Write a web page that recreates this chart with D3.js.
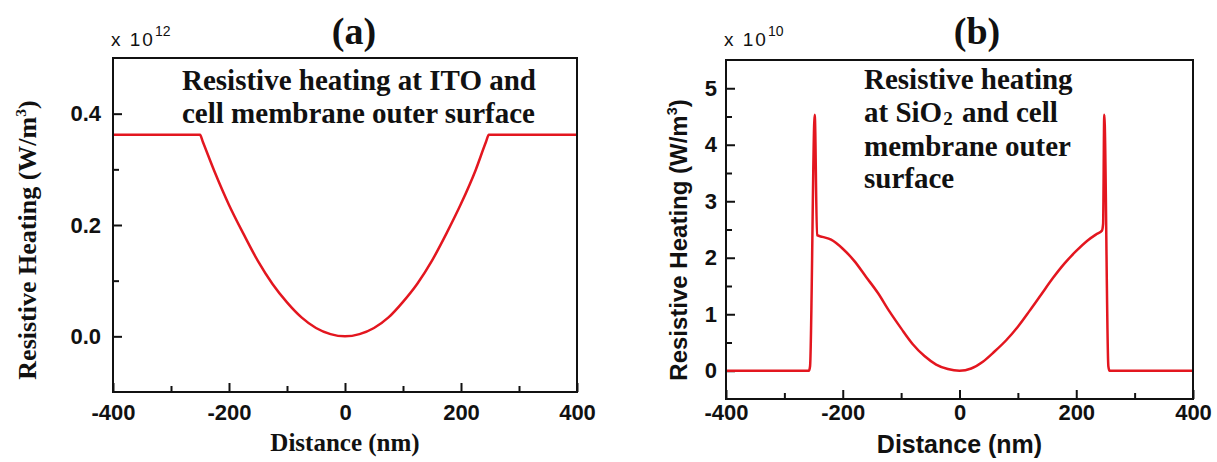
<!DOCTYPE html>
<html lang="en">
<head>
<meta charset="UTF-8">
<title>Resistive heating profiles</title>
<style>
    body { margin: 0; background: #fff; }
    svg { display: block; background: #fff; }
    .frame { fill: none; stroke: #111; stroke-width: 2px; }
    .axis path.domain { display: none; }
    .axis line { stroke: #111; stroke-width: 2px; }
    .axis text {
        font-family: "Liberation Sans", Arial, sans-serif;
        font-weight: bold;
        font-size: 22px;
        fill: #111;
    }
    .curve { fill: none; stroke: #e3161f; stroke-width: 2.5px; stroke-linejoin: round; }
    .serif { font-family: "Liberation Serif", "Times New Roman", serif; font-weight: bold; fill: #111; }
    .sans { font-family: "Liberation Sans", Arial, sans-serif; fill: #111; }
</style>
<script src="https://cdn.jsdelivr.net/npm/d3@7"></script>
</head>
<body>
<script>

    // ---- data ----
    const xTicks = [-400, -200, 0, 200, 400];
    const xMinor = [-300, -100, 100, 300];

    const yTicksA = [0, 0.2, 0.4];
    const yMinorA = [0.1, 0.3];
    const yTicksB = [0, 1, 2, 3, 4, 5];
    const yMinorB = [0.5, 1.5, 2.5, 3.5, 4.5];

    // (a) ITO, x 10^12 W/m3
    const distA = [-400, -250, -245, -225, -200, -175, -150, -125, -100, -75, -50, -25, 0,
                   25, 50, 75, 100, 125, 150, 175, 200, 225, 243, 248, 400];
    const heatA = [0.362, 0.362, 0.349, 0.296, 0.236, 0.184, 0.135, 0.094, 0.061, 0.034, 0.015, 0.004, 0,
                   0.004, 0.015, 0.034, 0.062, 0.095, 0.136, 0.185, 0.238, 0.298, 0.349, 0.362, 0.362];

    // (b) SiO2, x 10^10 W/m3
    const distB = [-400, -258, -256, -248, -244, -235, -220, -200, -180, -160, -140, -120, -100,
                   -80, -60, -40, -20, 0, 20, 40, 60, 80, 100, 120, 140, 160, 180, 200, 220,
                   235, 244, 246, 248, 255, 257, 400];
    const heatB = [0, 0, 0.08, 4.53, 2.40, 2.37, 2.32, 2.16, 1.94, 1.66, 1.38, 1.05, 0.75,
                   0.47, 0.26, 0.11, 0.03, 0, 0.04, 0.16, 0.34, 0.54, 0.78, 1.06, 1.35, 1.64, 1.90, 2.12, 2.31,
                   2.42, 2.48, 2.6, 4.53, 0.08, 0, 0];

    const width = 1217, height = 462;

    const svg = d3.select("body").append("svg")
        .attr("width", width)
        .attr("height", height)
        .attr("viewBox", `0,0,${width},${height}`);

    function drawPanel(cfg) {
        const g = svg.append("g");

        const xScale = d3.scaleLinear().domain([-400, 400]).range([cfg.left, cfg.right]);
        const yScale = d3.scaleLinear().domain(cfg.yDomain).range([cfg.bottom, cfg.top]);

        // minor ticks (inside the frame)
        g.append("g").attr("class", "axis")
            .attr("transform", `translate(0,${cfg.bottom})`)
            .call(d3.axisBottom(xScale).tickValues(xMinor).tickSize(-6).tickFormat(""));
        g.append("g").attr("class", "axis")
            .attr("transform", `translate(${cfg.left},0)`)
            .call(d3.axisLeft(yScale).tickValues(cfg.yMinor).tickSize(-6).tickFormat(""));

        // major ticks + labels
        g.append("g").attr("class", "axis")
            .attr("transform", `translate(0,${cfg.bottom})`)
            .call(d3.axisBottom(xScale).tickValues(xTicks).tickSize(-9)
                .tickPadding(cfg.xPad).tickFormat(d => String(d)));
        g.append("g").attr("class", "axis")
            .attr("transform", `translate(${cfg.left},0)`)
            .call(d3.axisLeft(yScale).tickValues(cfg.yTicks).tickSize(-9)
                .tickPadding(cfg.yPad).tickFormat(cfg.yFormat));

        // the curve
        const lineGen = d3.line()
            .curve(d3.curveMonotoneX)
            .x(d => xScale(d[0]))
            .y(d => yScale(d[1]));
        g.append("path")
            .datum(d3.zip(cfg.xs, cfg.ys))
            .attr("class", "curve")
            .attr("d", lineGen);

        // frame
        g.append("rect").attr("class", "frame")
            .attr("x", cfg.left).attr("y", cfg.top)
            .attr("width", cfg.right - cfg.left)
            .attr("height", cfg.bottom - cfg.top);

        // panel letter
        g.append("text").attr("class", "serif")
            .attr("x", cfg.letterX).attr("y", 44)
            .attr("text-anchor", "middle")
            .style("font-size", "38px")
            .text(cfg.letter);

        // multiplier
        const mult = g.append("text").attr("class", "sans")
            .attr("x", cfg.left - 2).attr("y", 46)
            .style("font-size", "19px");
        mult.append("tspan").style("letter-spacing", "2px").text("x 10");
        mult.append("tspan").attr("dy", -10).style("font-size", "14px").text(cfg.power);

        // y title
        const yt = g.append("text")
            .attr("class", cfg.yTitleClass)
            .attr("transform", "rotate(-90)")
            .attr("x", -cfg.yTitleY)
            .attr("y", cfg.yTitleX)
            .attr("text-anchor", "middle")
            .style("font-size", cfg.yTitleSize)
            .style("font-weight", "bold");
        yt.append("tspan").text("Resistive Heating (W/m");
        yt.append("tspan").attr("dy", -10).style("font-size", "0.6em").text("3");
        yt.append("tspan").attr("dy", 10).text(")");

        // x title
        g.append("text")
            .attr("class", cfg.xTitleClass)
            .attr("x", (cfg.left + cfg.right) / 2)
            .attr("y", cfg.xTitleY)
            .attr("text-anchor", "middle")
            .style("font-size", cfg.xTitleSize)
            .style("font-weight", "bold")
            .text("Distance (nm)");

        return g;
    }

    const gA = drawPanel({
        left: 113, right: 577, top: 58, bottom: 392,
        yDomain: [-0.1, 0.5], yTicks: yTicksA, yMinor: yMinorA, yFormat: d3.format(".1f"),
        xs: distA, ys: heatA, xPad: 12, yPad: 12,
        letter: "(a)", letterX: 354, power: "12",
        yTitleClass: "serif", yTitleX: 36, yTitleY: 240, yTitleSize: "26px",
        xTitleClass: "serif", xTitleY: 451, xTitleSize: "25px"
    });

    const gB = drawPanel({
        left: 726, right: 1193, top: 60, bottom: 399,
        yDomain: [-0.5, 5.5], yTicks: yTicksB, yMinor: yMinorB, yFormat: d3.format("d"),
        xs: distB, ys: heatB, xPad: 5, yPad: 9,
        letter: "(b)", letterX: 977, power: "10",
        yTitleClass: "sans", yTitleX: 687, yTitleY: 240, yTitleSize: "24px",
        xTitleClass: "sans", xTitleY: 453, xTitleSize: "25px"
    });

    /*------------ annotations ------------*/
    const noteA = gA.append("text").attr("class", "serif").style("font-size", "29px");
    noteA.append("tspan").attr("x", 182).attr("y", 90).text("Resistive heating at ITO and");
    noteA.append("tspan").attr("x", 182).attr("y", 123).text("cell membrane outer surface");

    const noteB = gB.append("text").attr("class", "serif")
        .style("font-size", "29px").style("white-space", "pre");
    noteB.append("tspan").attr("x", 864).attr("y", 89).text("Resistive heating");
    noteB.append("tspan").attr("x", 864).attr("y", 122).text("at SiO");
    noteB.append("tspan").attr("dx", 1).attr("dy", 3).style("font-size", "19px").text("2");
    noteB.append("tspan").attr("dx", 2).attr("dy", -3).text(" and cell");
    noteB.append("tspan").attr("x", 864).attr("y", 156).text("membrane outer");
    noteB.append("tspan").attr("x", 864).attr("y", 188).text("surface");

</script>
</body>
</html>
